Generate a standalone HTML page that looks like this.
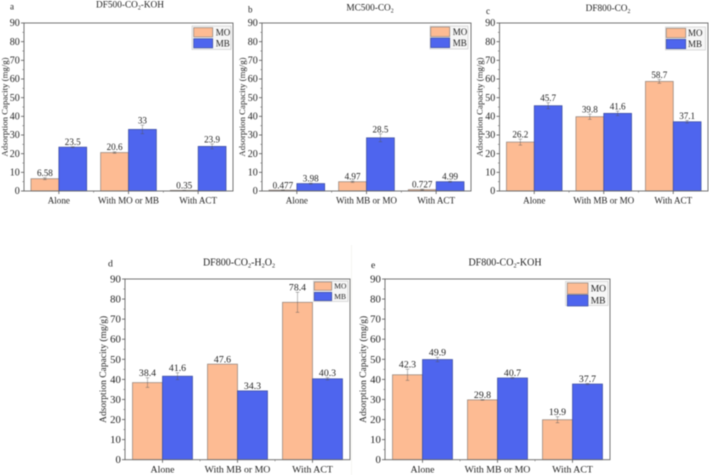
<!DOCTYPE html>
<html lang="en">
<head>
<meta charset="utf-8">
<title>Adsorption capacity charts</title>
<style>
html,body{margin:0;padding:0;background:#fff;}
body{width:709px;height:475px;overflow:hidden;}
svg{display:block;filter:blur(0.45px);font-family:"Liberation Serif",serif;}
text{fill:#222;}
</style>
</head>
<body>
<svg id="figure" width="709" height="475" viewBox="0 0 709 475" xmlns="http://www.w3.org/2000/svg">
<line x1="351.5" y1="245" x2="351.5" y2="475" stroke="#f6f5f2" stroke-width="1"/>
</svg>
<script>
// Chart data
const yTickLabels = [0, 10, 20, 30, 40, 50, 60, 70, 80, 90];
const seriesNames = ['MO', 'MB'];

const catsA = ['Alone', 'With MO or MB', 'With ACT'];
const moA = [6.58, 20.6, 0.35];
const mbA = [23.5, 33, 23.9];
const moErrA = [0.5, 0.4, 0.1];
const mbErrA = [0.3, 2.3, 1.3];
const moLabelsA = ['6.58', '20.6', '0.35'];
const mbLabelsA = ['23.5', '33', '23.9'];

const catsB = ['Alone', 'With MB or MO', 'With ACT'];
const moB = [0.477, 4.97, 0.727];
const mbB = [3.98, 28.5, 4.99];
const moErrB = [0.1, 0.4, 0.3];
const mbErrB = [0.3, 2.1, 0.3];
const moLabelsB = ['0.477', '4.97', '0.727'];
const mbLabelsB = ['3.98', '28.5', '4.99'];

const catsC = ['Alone', 'With MB or MO', 'With ACT'];
const moC = [26.2, 39.8, 58.7];
const mbC = [45.7, 41.6, 37.1];
const moErrC = [1.6, 1.4, 1];
const mbErrC = [1.6, 1.2, 0.7];
const moLabelsC = ['26.2', '39.8', '58.7'];
const mbLabelsC = ['45.7', '41.6', '37.1'];

const catsD = ['Alone', 'With MB or MO', 'With ACT'];
const moD = [38.4, 47.6, 78.4];
const mbD = [41.6, 34.3, 40.3];
const moErrD = [2.4, 0, 5];
const mbErrD = [1.7, 0, 0.6];
const moLabelsD = ['38.4', '47.6', '78.4'];
const mbLabelsD = ['41.6', '34.3', '40.3'];

const catsE = ['Alone', 'With MB or MO', 'With ACT'];
const moE = [42.3, 29.8, 19.9];
const mbE = [49.9, 40.7, 37.7];
const moErrE = [2.8, 0.2, 1.5];
const mbErrE = [1.1, 0.3, 0.3];
const moLabelsE = ['42.3', '29.8', '19.9'];
const mbLabelsE = ['49.9', '40.7', '37.7'];

// Panel assembly and layout
const panels = [
  {id:'a', title:'DF500-CO_2_-KOH', cats:catsA, mo:moA, mb:mbA, moErr:moErrA, mbErr:mbErrA, moL:moLabelsA, mbL:mbLabelsA,
   box:{l:24,r:233,t:23,b:191}, fs:9, letter:[10,9.5], titleAt:[130,7.5], yTitleX:7.5, xLabelY:203.5,
   legend:{x:192,y:26,w:39,h:23.5,sx:1.7,sw:19,s1:1.7,sh:9.2,s2:12.7,tx:23.7,fs:9}},
  {id:'b', title:'MC500-CO_2_', cats:catsB, mo:moB, mb:mbB, moErr:moErrB, mbErr:mbErrB, moL:moLabelsB, mbL:mbLabelsB,
   box:{l:262,r:471,t:23,b:191}, fs:9, letter:[248,12.5], titleAt:[370,10.5], yTitleX:245, xLabelY:203.5,
   legend:{x:430,y:26,w:38,h:23,sx:0.7,sw:19,s1:1,sh:9.6,s2:12,tx:22.7,fs:9}},
  {id:'c', title:'DF800-CO_2_', cats:catsC, mo:moC, mb:mbC, moErr:moErrC, mbErr:mbErrC, moL:moLabelsC, mbL:mbLabelsC,
   box:{l:499.5,r:708,t:23,b:191}, fs:9, letter:[486,14], titleAt:[608,11], yTitleX:482.5, xLabelY:203.5,
   legend:{x:665.5,y:27,w:40,h:23,sx:0.8,sw:19.4,s1:1.3,sh:9.4,s2:12.3,tx:22.5,fs:9}},
  {id:'d', title:'DF800-CO_2_-H_2_O_2_', cats:catsD, mo:moD, mb:mbD, moErr:moErrD, mbErr:mbErrD, moL:moLabelsD, mbL:mbLabelsD,
   box:{l:125,r:350,t:279,b:459.7}, fs:9.7, letter:[108,266.5], titleAt:[239,265.5], yTitleX:106, xLabelY:472.5,
   legend:{x:313.5,y:281,w:34.5,h:20.5,sx:0.8,sw:17.4,s1:1,sh:8.3,s2:11.3,tx:20.8,fs:7.5}},
  {id:'e', title:'DF800-CO_2_-KOH', cats:catsE, mo:moE, mb:mbE, moErr:moErrE, mbErr:mbErrE, moL:moLabelsE, mbL:mbLabelsE,
   box:{l:385,r:610,t:279,b:459.7}, fs:9.7, letter:[371,268], titleAt:[505,265.5], yTitleX:366, xLabelY:472.5,
   legend:{x:565.5,y:281.5,w:42.5,h:24,sx:1.8,sw:20.7,s1:1.5,sh:11,s2:13.5,tx:25.2,fs:9.5}}
];

const NS = 'http://www.w3.org/2000/svg';
const svg = document.getElementById('figure');

function make(tag, parent, props, content) {
  const node = document.createElementNS(NS, tag);
  for (const key in props) node.setAttribute(key, props[key]);
  if (content !== undefined) node.textContent = content;
  parent.appendChild(node);
  return node;
}

function addTitle(parent, str, x, y, size) {
  const t = make('text', parent, {x:x, y:y, 'text-anchor':'middle', 'font-size':size});
  str.split('_').forEach(function (part, i) {
    const sub = i % 2 === 1;
    make('tspan', t, sub ? {dy:1.8, 'font-size':size * 0.62} : {dy: i > 0 ? -1.8 : 0}, part);
  });
  return t;
}

panels.forEach(function (p) {
  const box = p.box;
  const yScale = function (v) { return box.b - v * (box.b - box.t) / 90; };
  const catW = (box.r - box.l) / p.cats.length;
  const xCenter = function (i) { return box.l + catW * (i + 0.5); };
  const barW = catW * 0.4;

  const g = make('g', svg, {});
  
  

  const letter = make('text', g, {x:p.letter[0], y:p.letter[1], 'font-size':p.fs}, p.id);
  
  

  const title = addTitle(g, p.title, p.titleAt[0], p.titleAt[1], p.fs + 0.3);
  
  

  const midY = (box.t + box.b) / 2;
  const yTitle = make('text', g, {x:p.yTitleX, y:midY, 'text-anchor':'middle', 'font-size':p.fs - 0.2,
    transform:'rotate(-90 ' + p.yTitleX + ' ' + midY + ')'}, 'Adsorption Capacity (mg/g)');
  
  

  // Bars, error bars, value labels
  [[p.mo, p.moErr, p.moL, '#fdbb93', '#8f8078', -1, 'mo'],
   [p.mb, p.mbErr, p.mbL, '#4e65ee', '#3a4b9c', 0, 'mb']].forEach(function (s) {
    s[0].forEach(function (v, i) {
      const x0 = xCenter(i) + s[5] * barW;
      const bar = make('rect', g, {x:x0, y:yScale(v), width:barW, height:box.b - yScale(v), fill:s[3], stroke:s[4], 'stroke-width':0.7});
      
      

      const cx = x0 + barW / 2;
      const e = s[1][i];
      const hi = yScale(v + e);
      const lo = yScale(v - e);
      if (e > 0) {
        const err = make('path', g, {d:'M' + cx + ' ' + hi + 'V' + lo + 'M' + (cx - 1.8) + ' ' + hi + 'H' + (cx + 1.8) + 'M' + (cx - 1.8) + ' ' + lo + 'H' + (cx + 1.8),
          fill:'none', stroke:'#555', 'stroke-width':0.5, opacity:0.8});
        
        
      }

      const label = make('text', g, {x:cx, y:hi - 1.6, 'text-anchor':'middle', 'font-size':p.fs + 0.1}, s[2][i]);
      
      
    });
  });

  // Plot frame
  const frame = make('rect', g, {x:box.l, y:box.t, width:box.r - box.l, height:box.b - box.t, fill:'none', stroke:'#666', 'stroke-width':0.9});
  
  

  // Y axis ticks
  yTickLabels.forEach(function (v, i) {
    const yy = yScale(v);
    const tick = make('line', g, {x1:box.l - 3, x2:box.l, y1:yy, y2:yy, stroke:'#555', 'stroke-width':0.8});
    
    
    const lab = make('text', g, {x:box.l - 4.2, y:yy + p.fs * 0.36, 'text-anchor':'end', 'font-size':p.fs + 1}, String(v));
    
    
    if (i < yTickLabels.length - 1) {
      const my = yScale(v + 5);
      const minor = make('line', g, {x1:box.l - 1.6, x2:box.l, y1:my, y2:my, stroke:'#666', 'stroke-width':0.6});
      
      
    }
  });

  // X axis ticks and labels
  p.cats.forEach(function (c, i) {
    const xx = xCenter(i);
    const tick = make('line', g, {x1:xx, x2:xx, y1:box.b, y2:box.b + 3, stroke:'#555', 'stroke-width':0.8});
    
    
    const lab = make('text', g, {x:xx, y:p.xLabelY, 'text-anchor':'middle', 'font-size':p.fs + 0.1}, c);
    
    
    if (i > 0) {
      const bx = box.l + catW * i;
      const minor = make('line', g, {x1:bx, x2:bx, y1:box.b, y2:box.b + 1.6, stroke:'#666', 'stroke-width':0.6});
      
      
    }
  });

  // Legend
  const L = p.legend;
  const legend = make('g', g, {});
  
  
  const bg = make('rect', legend, {x:L.x, y:L.y, width:L.w, height:L.h, fill:'#f6f6f6', stroke:'#d4d4d4', 'stroke-width':0.8});
  
  
  seriesNames.forEach(function (name, i) {
    const sy = L.y + (i === 0 ? L.s1 : L.s2);
    const sw = make('rect', legend, {x:L.x + L.sx, y:sy, width:L.sw, height:L.sh,
      fill:i === 0 ? '#fdbb93' : '#4e65ee', stroke:i === 0 ? '#8f8078' : '#3a4b9c', 'stroke-width':0.7});
    
    
    const tx = make('text', legend, {x:L.x + L.tx, y:sy + L.sh / 2 + L.fs * 0.34, 'font-size':L.fs}, name);
    
    
  });
});
</script>
</body>
</html>
